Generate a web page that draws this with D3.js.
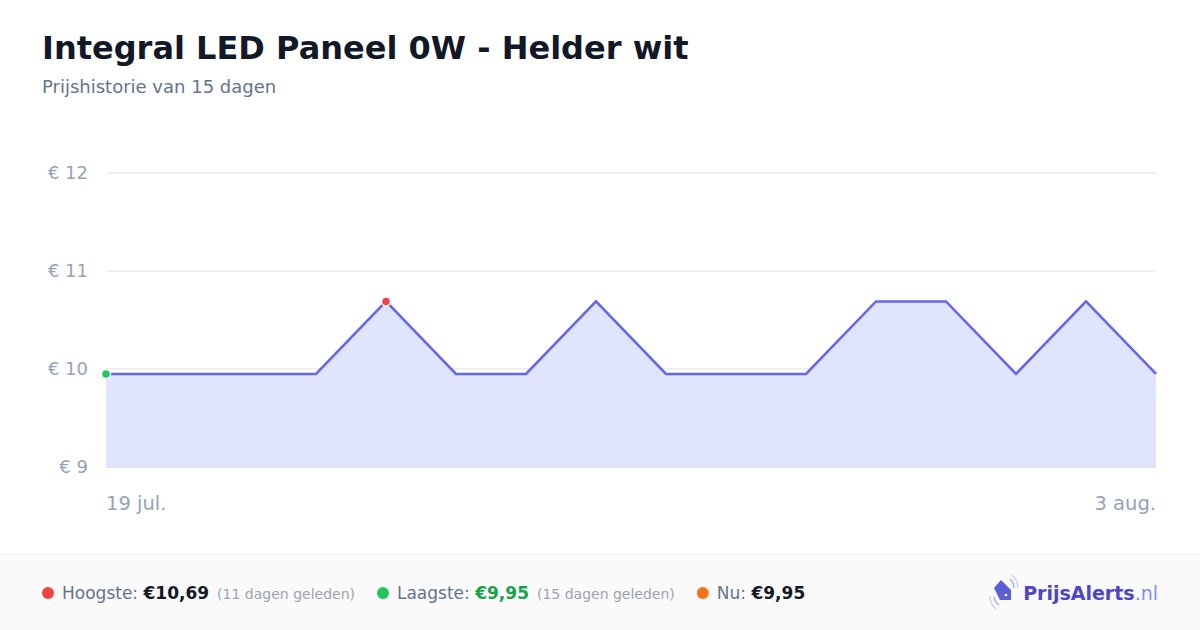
<!DOCTYPE html>
<html><head><meta charset="utf-8">
<script src="https://cdn.jsdelivr.net/npm/d3@7"></script>
<style>
html,body{margin:0;padding:0;background:#fff;}
svg{display:block;font-family:"DejaVu Sans",sans-serif;}
</style></head>
<body><svg id="c" width="1200" height="630"></svg>
<script>
const title = "Integral LED Paneel 0W - Helder wit";
const subtitle = "Prijshistorie van 15 dagen";
const dates = ["2024-07-19","2024-07-20","2024-07-21","2024-07-22","2024-07-23","2024-07-24","2024-07-25","2024-07-26","2024-07-27","2024-07-28","2024-07-29","2024-07-30","2024-07-31","2024-08-01","2024-08-02","2024-08-03"];
const prices = [9.95,9.95,9.95,9.95,10.69,9.95,9.95,10.69,9.95,9.95,9.95,10.69,10.69,9.95,10.69,9.95];
const yTicks = [9,10,11,12];
const xTickLabels = ["19 jul.","3 aug."];
const stats = [
  {label:"Hoogste:", value:"€10,69", note:"(11 dagen geleden)", dot:"#ef4444", valColor:"#111827"},
  {label:"Laagste:", value:"€9,95", note:"(15 dagen geleden)", dot:"#22c55e", valColor:"#16a34a"},
  {label:"Nu:", value:"€9,95", note:"", dot:"#f97316", valColor:"#111827"}
];

const svg = d3.select("#c");
const parse = d3.timeParse("%Y-%m-%d");
const data = dates.map((d,i)=>({date:parse(d), price:prices[i]}));

svg.append("text").attr("x",42).attr("y",59).attr("font-size",32).attr("font-weight","bold").attr("fill","#111827").text(title);
svg.append("text").attr("x",42).attr("y",93).attr("font-size",18).attr("fill","#64748b").text(subtitle);

const x = d3.scaleTime().domain(d3.extent(data,d=>d.date)).range([106,1156]);
const y = d3.scaleLinear().domain([9,12]).range([467,173]);

// grid
svg.append("g").selectAll("line").data(yTicks.filter(d=>d!==9)).join("line")
  .attr("x1",106).attr("x2",1156).attr("y1",d=>y(d)).attr("y2",d=>y(d))
  .attr("stroke","#f0f0f2").attr("stroke-width",2);

// y labels
svg.append("g").selectAll("text").data(yTicks).join("text")
  .attr("x",88).attr("y",d=>y(d)+6).attr("text-anchor","end").attr("font-size",18).attr("fill","#94a3b8")
  .text(d=>"€ "+d);

// area
const area = d3.area().x(d=>x(d.date)).y0(y(9)).y1(d=>y(d.price));
svg.append("path").datum(data).attr("d",area).attr("fill","#e0e5fd");
svg.append("line").attr("x1",106).attr("x2",1156).attr("y1",y(9)).attr("y2",y(9)).attr("stroke","#e2e4ea").attr("stroke-width",2);
const line = d3.line().x(d=>x(d.date)).y(d=>y(d.price));
svg.append("path").datum(data).attr("d",line).attr("fill","none").attr("stroke","#6366f1").attr("stroke-width",2.5).attr("stroke-linejoin","miter");

// markers
const maxI = prices.indexOf(d3.max(prices));
const minI = prices.indexOf(d3.min(prices));
[[minI,"#22c55e"],[maxI,"#ef4444"]].forEach(([i,c])=>{
  svg.append("circle").attr("cx",x(data[i].date)).attr("cy",y(data[i].price)).attr("r",4.5)
    .attr("fill",c).attr("stroke","#fff").attr("stroke-width",1.5);
});

// x labels
svg.append("text").attr("x",x(data[0].date)).attr("y",510).attr("font-size",19.5).attr("fill","#94a3b8").text(xTickLabels[0]);
svg.append("text").attr("x",x(data[data.length-1].date)).attr("y",510).attr("text-anchor","end").attr("font-size",19.5).attr("fill","#94a3b8").text(xTickLabels[1]);

// footer
svg.append("rect").attr("x",0).attr("y",554).attr("width",1200).attr("height",76).attr("fill","#fafafa");
svg.append("line").attr("x1",0).attr("x2",1200).attr("y1",554.5).attr("y2",554.5).attr("stroke","#eeeeee");

let cx = 42;
stats.forEach(s=>{
  svg.append("circle").attr("cx",cx+6).attr("cy",593).attr("r",6).attr("fill",s.dot);
  const t = svg.append("text").attr("x",cx+20).attr("y",599).attr("font-size",17);
  t.append("tspan").attr("fill","#64748b").text(s.label+" ");
  t.append("tspan").attr("fill",s.valColor).attr("font-weight","bold").text(s.value);
  if(s.note){ t.append("tspan").attr("fill","#9ca3af").attr("font-size",14).attr("dx",8).text(s.note); }
  cx = cx + 20 + t.node().getComputedTextLength() + 30;
});

// logo
const lg = svg.append("g").attr("transform","translate(1003,592)");
lg.append("path").attr("d","M-9,-4 L-2,-12 L8,-2 L8,8 L-3,8 Z").attr("fill","#5b5fd6");
lg.append("circle").attr("cx",3).attr("cy",3).attr("r",1.3).attr("fill","#fff");
lg.append("path").attr("d","M7,-13 A12,12 0 0 1 11,-4").attr("fill","none").attr("stroke","#a5b4fc").attr("stroke-width",1.5);
lg.append("path").attr("d","M9,-17 A17,17 0 0 1 15,-4").attr("fill","none").attr("stroke","#c7d2fe").attr("stroke-width",1.5);
lg.append("path").attr("d","M-9,5 A12,12 0 0 0 -4,13").attr("fill","none").attr("stroke","#a5b4fc").attr("stroke-width",1.5);
lg.append("path").attr("d","M-13,4 A17,17 0 0 0 -7,17").attr("fill","none").attr("stroke","#c7d2fe").attr("stroke-width",1.5);
const lt = svg.append("text").attr("x",1158).attr("y",600).attr("text-anchor","end").attr("font-size",19);
lt.append("tspan").attr("fill","#4f46c5").attr("font-weight","bold").text("PrijsAlerts");
lt.append("tspan").attr("fill","#818cf8").text(".nl");
</script></body></html>
